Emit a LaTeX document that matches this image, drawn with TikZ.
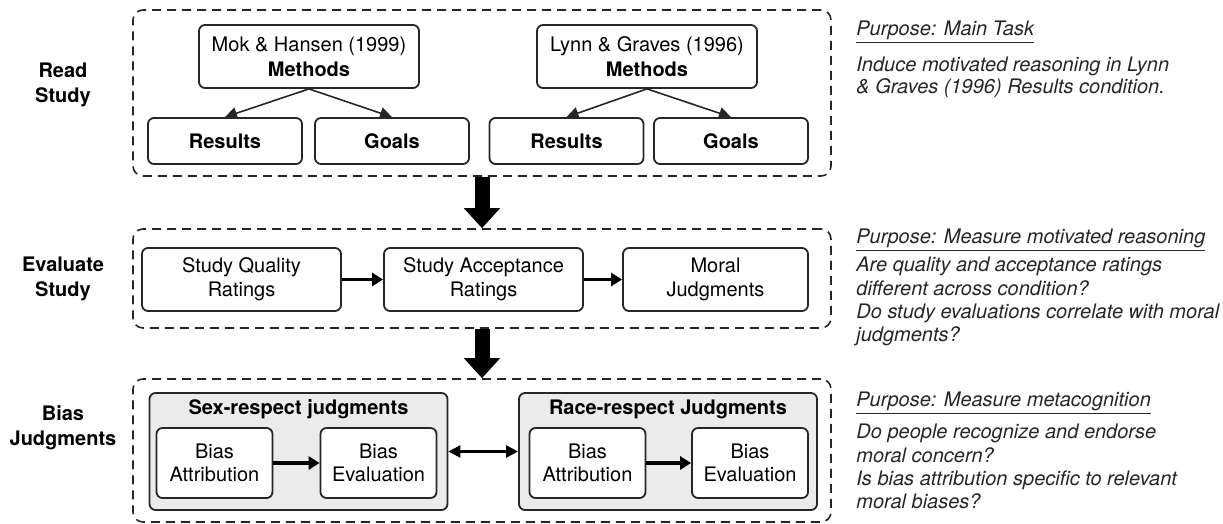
\documentclass[tikz,border=0pt]{standalone}
\usepackage{fontspec}
\setmainfont{TeX Gyre Heros}
\usetikzlibrary{arrows.meta, fit}

\begin{document}
\begin{tikzpicture}[x=0.5pt, y=-0.5pt, font=\fontsize{10}{12}\selectfont,
    stage/.style={draw=black!85, dash pattern=on 4.5pt off 3pt, line width=0.8pt,
      rounded corners=5pt, inner sep=0pt},
    box/.style={draw=black!85, line width=0.9pt, rounded corners=3pt, align=center,
      inner sep=0pt, fill=white},
    grp/.style={box, fill=black!8, minimum width=149pt, minimum height=58.5pt},
    side/.style={font=\bfseries\fontsize{10}{12.5}\selectfont, align=center},
    purpose/.style={anchor=west, inner sep=0pt, text=black!85,
      font=\itshape\fontsize{10}{11.65}\selectfont},
    note/.style={anchor=north west, align=left, inner sep=0pt, text=black!85,
      font=\itshape\fontsize{10}{11.65}\selectfont},
    tree/.style={draw=black!85, line width=0.8pt, -{Triangle[length=6pt, width=6pt]}},
    flow/.style={line width=1.6pt, -{Triangle[length=5.5pt, width=6.5pt]}},
    pair/.style={line width=1.2pt, {Triangle[length=6pt, width=6pt]}-{Triangle[length=6pt, width=6pt]}},
    big/.style={line width=7.5pt, -{Triangle[length=10pt, width=17.5pt]}}]
  \useasboundingbox (0,0) rectangle (1223,524);
  % --- stage frames ---
  \node[stage, fit={(133,10) (831,176)}] (read) {};
  \node[stage, fit={(133,229) (831,328)}] (eval) {};
  \node[stage, fit={(133,379) (831,522)}] (bias) {};
  \node[side] (readlbl) at (63,85) {Read\\Study};
  \node[side] (evallbl) at (63,279) {Evaluate\\Study};
  \node[side] (biaslbl) at (63,428) {Bias\\Judgments};
  % --- read study ---
  \foreach \n/\x/\who in {mok/309/Mok \& Hansen (1999), lynn/647/Lynn \& Graves (1996)}
    \node[box, minimum width=110pt, minimum height=31.5pt,
      font=\fontsize{10}{12.5}\selectfont] (\n) at (\x,56.5) {\who\\\textbf{Methods}};
  \foreach \n/\x/\lbl in {res1/225/Results, goal1/392/Goals,
      res2/566.5/Results, goal2/731/Goals}
    \node[box, font=\bfseries, minimum width=77pt, minimum height=23pt] (\n) at (\x,141) {\lbl};
  \draw[tree] (mok.south) -- (res1.north);
  \draw[tree] (mok.south) -- (goal1.north);
  \draw[tree] (lynn.south) -- (res2.north);
  \draw[tree] (lynn.south) -- (goal2.north);
  % --- evaluate study ---
  \node[box, minimum width=99.5pt, minimum height=31.5pt] (quality) at (241.5,279.5) {Study Quality\\Ratings};
  \node[box, minimum width=99.5pt, minimum height=31.5pt] (accept) at (483.5,279.5) {Study Acceptance\\Ratings};
  \node[box, minimum width=92.5pt, minimum height=31.5pt] (moral) at (715.5,279.5) {Moral\\Judgments};
  \draw[flow] (quality) -- (accept);
  \draw[flow] (accept) -- (moral);
  % --- bias judgments ---
  \foreach \g/\x/\ttl in {sex/298.5/Sex-respect judgments, race/668/Race-respect Judgments}
    {\node[grp] (\g) at (\x,451.5) {};
     \node[font=\bfseries] (\g-title) at (\x,409) {\ttl};}
  \foreach \n/\x/\t in {sexa/214.5/Attribution, sexe/378.5/Evaluation,
      racea/587.5/Attribution, racee/750/Evaluation}
    \node[box, minimum width=58pt, minimum height=35pt,
      font=\fontsize{10}{11.5}\selectfont] (\n) at (\x,463) {Bias\\\t};
  \draw[flow] (sexa) -- (sexe);
  \draw[flow] (racea) -- (racee);
  \draw[pair] (sex) -- (race);
  % --- stage to stage ---
  \draw[big] (read.south) -- (eval.north);
  \draw[big] (eval.south) -- (bias.north);
  % --- purposes ---
  \node[purpose] (p1) at (856,32) {\underline{Purpose: Main Task}};
  \node[note, font=\itshape\fontsize{10}{11}\selectfont] (n1) at (856,57)
    {Induce motivated reasoning in Lynn\\\& Graves (1996) Results condition.};
  \node[purpose] (p2) at (856,240) {\underline{Purpose: Measure motivated reasoning}};
  \node[note] (n2) at (856,257)
    {Are quality and acceptance ratings\\different across condition?\\Do study evaluations correlate with moral\\judgments?};
  \node[purpose] (p3) at (856,403) {\underline{Purpose: Measure metacognition}};
  \node[note] (n3) at (856,424)
    {Do people recognize and endorse\\moral concern?\\Is bias attribution specific to relevant\\moral biases?};
\end{tikzpicture}
\end{document}
